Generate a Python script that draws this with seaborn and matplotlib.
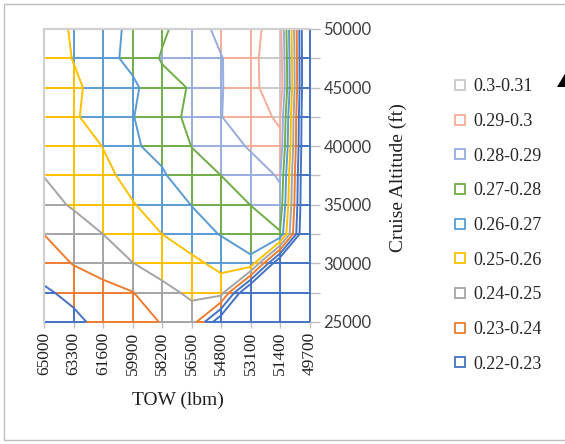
import numpy as np
import matplotlib
matplotlib.use("Agg")
import matplotlib.pyplot as plt
import seaborn as sns
from matplotlib.collections import LineCollection
from matplotlib.lines import Line2D
from matplotlib.patches import Rectangle, Polygon

# ---------------- data ----------------
tow = [65000, 63300, 61600, 59900, 58200, 56500, 54800, 53100, 51400, 49700]
altitude = [25000, 27500, 30000, 32500, 35000, 37500, 40000, 42500, 45000, 47500, 50000]

z_25000 = [0.2235, 0.2275, 0.2332, 0.2375, 0.2403, 0.2460, 0.2100, 0.2000, 0.2000, 0.19]
z_27500 = [0.2285, 0.2326, 0.2360, 0.2396, 0.2475, 0.2515, 0.2545, 0.2000, 0.2000, 0.19]
z_30000 = [0.2345, 0.2405, 0.2450, 0.2498, 0.2535, 0.2575, 0.2628, 0.2680, 0.2050, 0.19]
z_32500 = [0.2401, 0.2450, 0.2500, 0.2550, 0.2600, 0.2655, 0.2705, 0.2745, 0.2790, 0.19]
z_35000 = [0.2465, 0.2511, 0.2555, 0.2595, 0.2637, 0.2702, 0.2750, 0.2801, 0.2874, 0.19]
z_37500 = [0.2502, 0.2545, 0.2580, 0.2625, 0.2685, 0.2775, 0.2800, 0.2855, 0.2909, 0.19]
z_40000 = [0.2505, 0.2550, 0.2602, 0.2685, 0.2735, 0.2801, 0.2855, 0.2910, 0.2982, 0.19]
z_42500 = [0.2525, 0.2585, 0.2656, 0.2695, 0.2778, 0.2812, 0.2897, 0.2970, 0.3011, 0.19]
z_45000 = [0.2530, 0.2585, 0.2632, 0.2680, 0.2767, 0.2807, 0.2895, 0.2960, 0.3093, 0.19]
z_47500 = [0.2555, 0.2603, 0.2665, 0.2728, 0.2808, 0.2860, 0.2895, 0.2970, 0.3077, 0.19]
z_50000 = [0.2555, 0.2610, 0.2665, 0.2720, 0.2785, 0.2848, 0.2928, 0.2970, 0.3050, 0.19]

band_edges = [0.22, 0.23, 0.24, 0.25, 0.26, 0.27, 0.28, 0.29, 0.30, 0.31]
band_labels = ["0.22-0.23", "0.23-0.24", "0.24-0.25", "0.25-0.26", "0.26-0.27",
               "0.27-0.28", "0.28-0.29", "0.29-0.3", "0.3-0.31"]
band_colors = ["#4472C4", "#ED7D31", "#A5A5A5", "#FFC000", "#5B9BD5",
               "#70AD47", "#98ACE0", "#F4AE98", "#C9C9C9"]

# ---------------- style ----------------
sns.set_style("white")
palette = sns.color_palette(band_colors)
plt.rcParams['font.family'] = ['Liberation Serif', 'DejaVu Sans']

Z = np.array([z_25000, z_27500, z_30000, z_32500, z_35000, z_37500,
              z_40000, z_42500, z_45000, z_47500, z_50000])
cols = np.arange(len(tow))
alts = np.array(altitude, dtype=float)

fig = plt.figure(figsize=(5.65, 4.44), dpi=100)
ax = fig.add_axes([44 / 565, (444 - 322) / 444, 265.5 / 565, 293 / 444])
ax.set_xlim(0, len(tow) - 1)
ax.set_ylim(altitude[0], altitude[-1])


def band_of(z):
    k = int(np.floor((z - band_edges[0]) / 0.01 + 1e-9))
    return min(max(k, 0), len(band_colors) - 1)


segments, seg_colors = [], []


def add_edge(p0, p1, z0, z1):
    ts = [0.0, 1.0]
    lo, hi = min(z0, z1), max(z0, z1)
    for L in band_edges[1:-1]:
        if lo < L < hi:
            ts.append((L - z0) / (z1 - z0))
    ts.sort()
    p0 = np.array(p0, float)
    p1 = np.array(p1, float)
    for a, b in zip(ts[:-1], ts[1:]):
        zm = z0 + (z1 - z0) * (a + b) / 2
        segments.append([p0 + (p1 - p0) * a, p0 + (p1 - p0) * b])
        seg_colors.append(palette[band_of(zm)])


ny, nx = Z.shape
for j in range(ny):
    for i in range(nx - 1):
        add_edge((cols[i], alts[j]), (cols[i + 1], alts[j]), Z[j, i], Z[j, i + 1])
for i in range(nx):
    for j in range(ny - 1):
        add_edge((cols[i], alts[j]), (cols[i], alts[j + 1]), Z[j, i], Z[j + 1, i])

lc = LineCollection(segments, colors=seg_colors, linewidths=1.4, zorder=2,
                    clip_on=False, capstyle='butt')
ax.add_collection(lc)

levels = band_edges[:-1]
level_colors = [palette[band_of(L - 0.005)] for L in levels]
ax.contour(cols, alts, Z, levels=levels, colors=level_colors, linewidths=1.4, zorder=3)

# left / top border in light gray
for s in ax.spines.values():
    s.set_visible(False)
ax.plot([0, 0], [altitude[0], altitude[-1]], color="#D0D0D0", lw=1.6, zorder=4, clip_on=False)
ax.plot([0, len(tow) - 1], [altitude[-1], altitude[-1]], color="#D0D0D0", lw=1.6, zorder=4, clip_on=False)

# axes ticks
ax.set_xticks(cols)
ax.set_xticklabels([str(t) for t in tow], rotation=90, fontsize=12.5,
                   fontfamily='Liberation Serif')
ax.tick_params(axis='x', length=4, width=1, color='#BFBFBF', direction='out', pad=3, bottom=True)

ax.yaxis.tick_right()
ax.set_yticks(list(range(25000, 50001, 5000)))
ax.set_yticks(altitude, minor=True)
ax.tick_params(axis='y', which='both', length=7, width=1, color='#BFBFBF',
               direction='out', pad=3, right=True, left=False)
for lab in ax.get_yticklabels():
    lab.set_fontfamily('Lato')
    lab.set_fontsize(12)
    lab.set_color('#404040')
for lab in ax.get_xticklabels():
    lab.set_color('#202020')

fig.text(178 / 565, 1 - 400 / 444, "TOW (lbm)", ha='center', va='center',
         fontsize=14, fontfamily='Liberation Serif', color='#202020')
fig.text(398 / 565, 1 - 178 / 444, "Cruise Altitude (ft)", ha='center', va='center',
         rotation=90, fontsize=14, fontfamily='Liberation Serif', color='#202020')

# legend (highest band on top)
handles = [Line2D([], [], ls='none', marker='s', markersize=6.5, markerfacecolor='none',
                  markeredgecolor=palette[k], markeredgewidth=1.3)
           for k in range(len(band_labels))][::-1]
fig.legend(handles, band_labels[::-1], loc='upper left',
           bbox_to_anchor=(446 / 565, 1 - 71 / 444), frameon=False,
           prop={'family': 'Liberation Serif', 'size': 13}, handlelength=0.8,
           handletextpad=0.3, labelspacing=0.98, borderaxespad=0)

# outer chart border & clipped arrow mark at the right edge
fig.add_artist(Rectangle((4 / 565, 4 / 444), 600 / 565, 436 / 444, transform=fig.transFigure,
                         fill=False, edgecolor='#BFBFBF', lw=1))
fig.add_artist(Polygon([(557 / 565, 1 - 87 / 444), (566 / 565, 1 - 72 / 444),
                        (575 / 565, 1 - 87 / 444)], closed=True, transform=fig.transFigure,
                       facecolor='black', edgecolor='none'))

fig.savefig("out.png", dpi=100)
